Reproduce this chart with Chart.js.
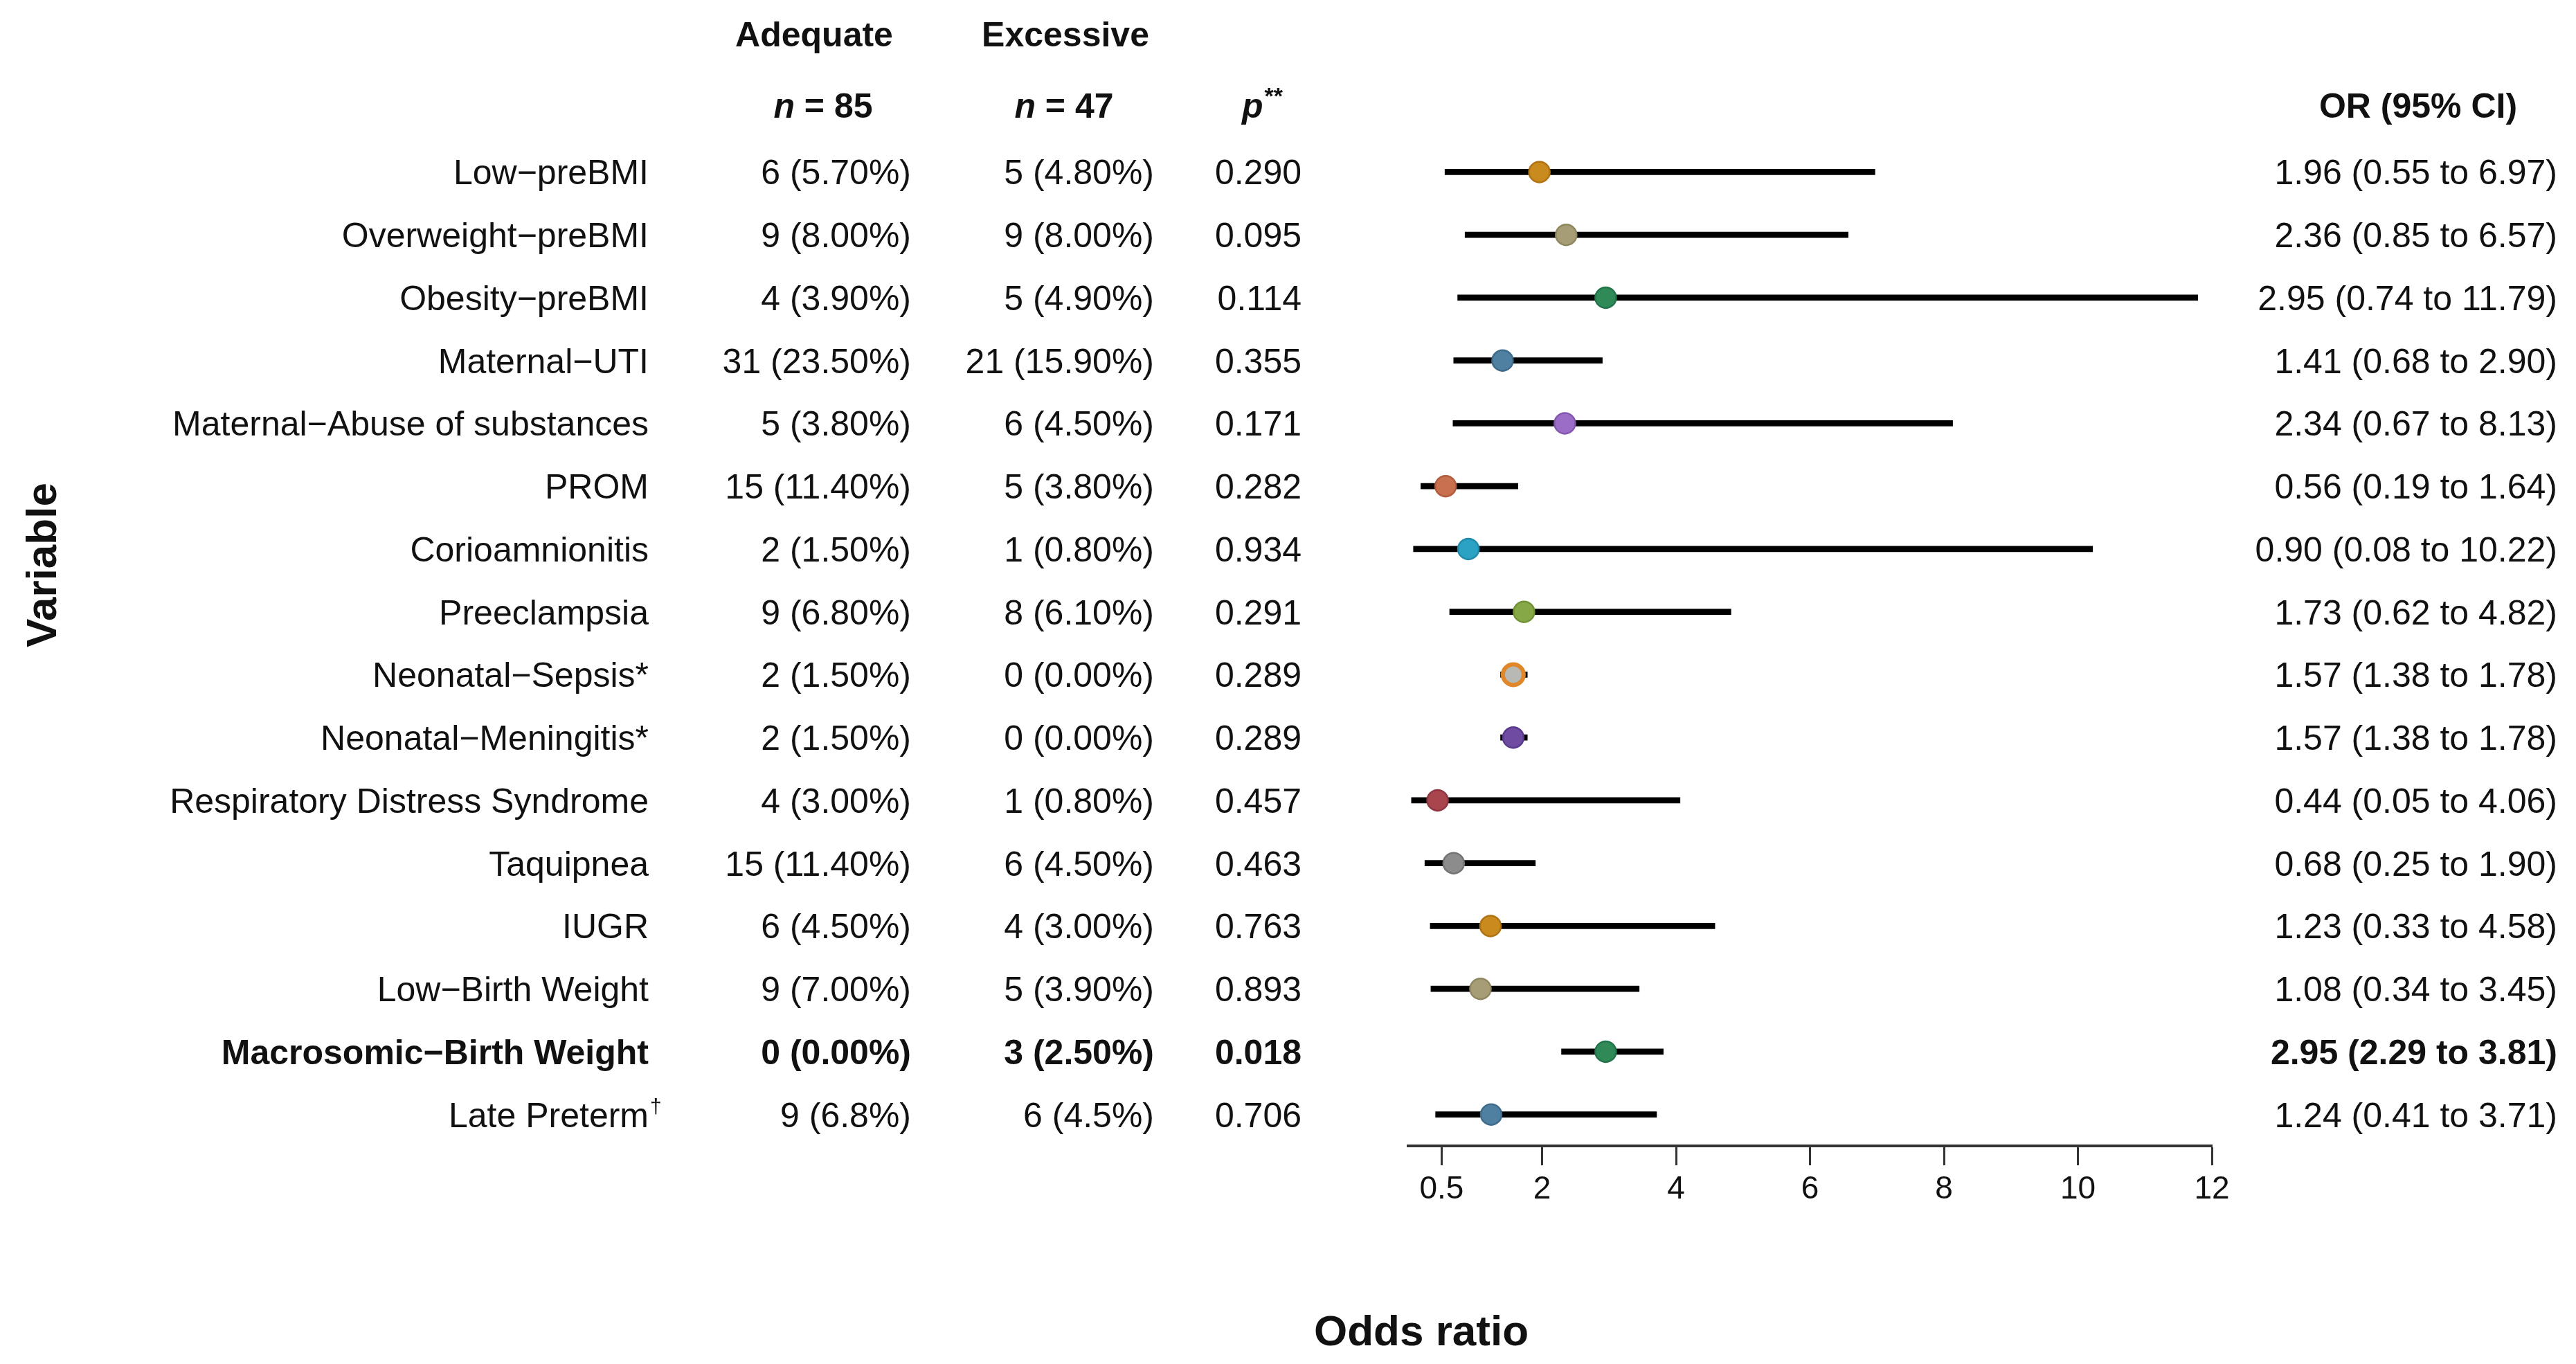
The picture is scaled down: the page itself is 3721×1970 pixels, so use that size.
<!DOCTYPE html>
<html>
<head>
<meta charset="utf-8">
<title>Odds ratio forest plot</title>
<script src="https://cdn.jsdelivr.net/npm/chart.js@4.4.1/dist/chart.umd.min.js"></script>
<style>
  html, body { margin: 0; padding: 0; background: #fff; }
  #wrap { width: 3721px; height: 1970px; position: relative; }
</style>
</head>
<body>
<div id="wrap"><canvas id="forest"></canvas></div>
<script>
// ---- data ----
const categories = [
  'Low−preBMI', 'Overweight−preBMI', 'Obesity−preBMI', 'Maternal−UTI',
  'Maternal−Abuse of substances', 'PROM', 'Corioamnionitis', 'Preeclampsia',
  'Neonatal−Sepsis*', 'Neonatal−Meningitis*', 'Respiratory Distress Syndrome',
  'Taquipnea', 'IUGR', 'Low−Birth Weight', 'Macrosomic−Birth Weight', 'Late Preterm†'
];
const adequate = [
  '6 (5.70%)', '9 (8.00%)', '4 (3.90%)', '31 (23.50%)', '5 (3.80%)', '15 (11.40%)',
  '2 (1.50%)', '9 (6.80%)', '2 (1.50%)', '2 (1.50%)', '4 (3.00%)', '15 (11.40%)',
  '6 (4.50%)', '9 (7.00%)', '0 (0.00%)', '9 (6.8%)'
];
const excessive = [
  '5 (4.80%)', '9 (8.00%)', '5 (4.90%)', '21 (15.90%)', '6 (4.50%)', '5 (3.80%)',
  '1 (0.80%)', '8 (6.10%)', '0 (0.00%)', '0 (0.00%)', '1 (0.80%)', '6 (4.50%)',
  '4 (3.00%)', '5 (3.90%)', '3 (2.50%)', '6 (4.5%)'
];
const pValues = [
  '0.290', '0.095', '0.114', '0.355', '0.171', '0.282', '0.934', '0.291',
  '0.289', '0.289', '0.457', '0.463', '0.763', '0.893', '0.018', '0.706'
];
const oddsRatio = [1.96, 2.36, 2.95, 1.41, 2.34, 0.56, 0.90, 1.73, 1.57, 1.57, 0.44, 0.68, 1.23, 1.08, 2.95, 1.24];
const ciLower   = [0.55, 0.85, 0.74, 0.68, 0.67, 0.19, 0.08, 0.62, 1.38, 1.38, 0.05, 0.25, 0.33, 0.34, 2.29, 0.41];
const ciUpper   = [6.97, 6.57, 11.79, 2.90, 8.13, 1.64, 10.22, 4.82, 1.78, 1.78, 4.06, 1.90, 4.58, 3.45, 3.81, 3.71];
const boldRows  = ['Macrosomic−Birth Weight'];
const xTicks    = [0.5, 2, 4, 6, 8, 10, 12];

// point colours (fill / edge), one per row
const pointFill = [
  '#C98A1E', '#A69D76', '#2F8A58', '#4F80A1', '#9B6DC6', '#C9714F', '#2BA1C3', '#87A847',
  '#B8B8B4', '#6F4BA2', '#A9454D', '#8C8C8C', '#C98A1E', '#A69D76', '#2F8A58', '#4F80A1'
];
const pointEdge = [
  '#B07414', '#8E8660', '#23744A', '#3F6C8A', '#8558B0', '#B05C3D', '#1F8BAA', '#719236',
  '#E0872A', '#5B3A8C', '#903640', '#747474', '#B07414', '#8E8660', '#23744A', '#3F6C8A'
];

const FONT = '"Liberation Sans", Arial, sans-serif';

function fmtOR(i) {
  return oddsRatio[i].toFixed(2) + ' (' + ciLower[i].toFixed(2) + ' to ' + ciUpper[i].toFixed(2) + ')';
}

// draws the table columns, headers and titles around the plot
const tablePlugin = {
  id: 'forestTable',
  afterDraw(chart) {
    const ctx = chart.ctx;
    const yScale = chart.scales.y;
    const size = 50;
    const capShift = Math.round(size * 0.716 / 2);

    ctx.save();
    ctx.fillStyle = '#111';
    ctx.textBaseline = 'alphabetic';

    categories.forEach((name, i) => {
      const y = yScale.getPixelForValue(i) + capShift;
      const weight = boldRows.includes(name) ? 'bold ' : '';
      ctx.font = weight + size + 'px ' + FONT;
      ctx.textAlign = 'right';

      if (name.endsWith('†')) {
        ctx.fillText(name.slice(0, -1), 937, y);
        ctx.textAlign = 'left';
        ctx.font = weight + '30px ' + FONT;
        ctx.fillText('†', 939, y - 20);
        ctx.font = weight + size + 'px ' + FONT;
        ctx.textAlign = 'right';
      } else {
        ctx.fillText(name, 937, y);
      }
      ctx.fillText(adequate[i], 1316, y);
      ctx.fillText(excessive[i], 1667, y);
      ctx.fillText(pValues[i], 1880, y);
      ctx.fillText(fmtOR(i), 3694, y);
    });

    // headers
    ctx.font = 'bold ' + size + 'px ' + FONT;
    ctx.textAlign = 'center';
    ctx.fillText('Adequate', 1176, 67);
    ctx.fillText('Excessive', 1539, 67);
    ctx.fillText('OR (95% CI)', 3493, 170);

    function nLabel(text, cx, y) {
      ctx.textAlign = 'left';
      ctx.font = 'italic bold ' + size + 'px ' + FONT;
      const wn = ctx.measureText('n').width;
      ctx.font = 'bold ' + size + 'px ' + FONT;
      const wr = ctx.measureText(text).width;
      const x0 = cx - (wn + wr) / 2;
      ctx.font = 'italic bold ' + size + 'px ' + FONT;
      ctx.fillText('n', x0, y);
      ctx.font = 'bold ' + size + 'px ' + FONT;
      ctx.fillText(text, x0 + wn, y);
    }
    nLabel(' = 85', 1189, 170);
    nLabel(' = 47', 1537, 170);

    ctx.textAlign = 'left';
    ctx.font = 'italic bold ' + size + 'px ' + FONT;
    ctx.fillText('p', 1794, 170);
    const wp = ctx.measureText('p').width;
    ctx.font = 'bold 34px ' + FONT;
    ctx.fillText('**', 1794 + wp + 2, 150);

    // axis titles
    ctx.font = 'bold 62px ' + FONT;
    ctx.textAlign = 'center';
    ctx.fillText('Odds ratio', 2053, 1943);

    ctx.translate(59, 816);
    ctx.rotate(-Math.PI / 2);
    ctx.fillText('Variable', 0, 22);
    ctx.restore();
  }
};

new Chart(document.getElementById('forest'), {
  type: 'bar',
  data: {
    labels: categories,
    datasets: [
      {
        type: 'scatter',
        label: 'Odds ratio',
        data: oddsRatio.map((v, i) => ({ x: v, y: categories[i] })),
        pointRadius: 15,
        pointBackgroundColor: pointFill,
        pointBorderColor: pointEdge,
        pointBorderWidth: categories.map((c, i) => (i === 8 ? 6 : 2.5)),
        showLine: false,
        clip: false,
        order: 0
      },
      {
        label: '95% CI',
        data: ciLower.map((lo, i) => [lo, ciUpper[i]]),
        backgroundColor: '#000',
        borderWidth: 0,
        barThickness: 8,
        order: 1
      }
    ]
  },
  options: {
    indexAxis: 'y',
    responsive: true,
    maintainAspectRatio: false,
    devicePixelRatio: 1,
    animation: false,
    layout: { padding: { left: 2034, right: 526, top: 203, bottom: 0 } },
    plugins: {
      legend: { display: false },
      tooltip: { enabled: false }
    },
    scales: {
      x: {
        type: 'linear',
        min: 0,
        max: 12,
        afterBuildTicks: (scale) => { scale.ticks = xTicks.map(v => ({ value: v })); },
        afterFit: (scale) => { scale.height = 315; },
        grid: { drawOnChartArea: false, drawTicks: true, tickLength: 28, tickColor: '#333', tickWidth: 3 },
        border: { display: true, color: '#333', width: 4 },
        ticks: {
          autoSkip: false,
          maxRotation: 0,
          padding: 8,
          color: '#111',
          font: { family: FONT, size: 46 },
          callback: (v) => String(v)
        }
      },
      y: {
        type: 'category',
        display: false,
        offset: true
      }
    }
  },
  plugins: [tablePlugin]
});
</script>
</body>
</html>
